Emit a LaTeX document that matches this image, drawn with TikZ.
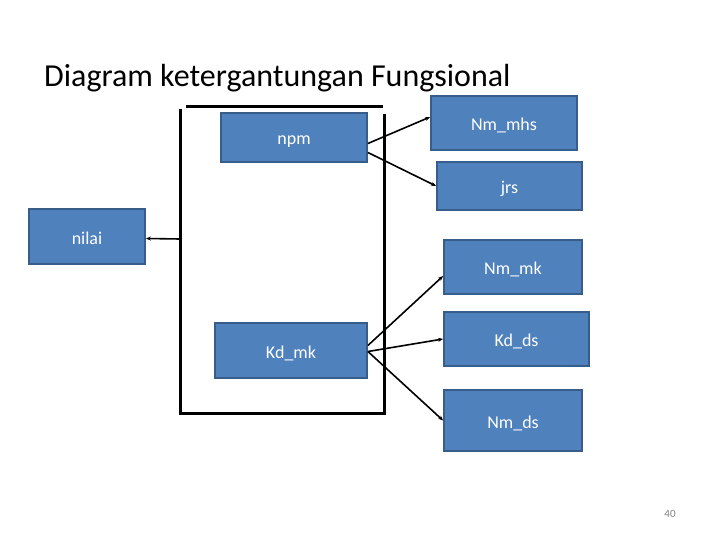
\documentclass[tikz,border=0pt]{standalone}
\usepackage{fontspec}
\setmainfont{Carlito}
\usetikzlibrary{arrows.meta}
\definecolor{boxfill}{HTML}{4F81BD}
\definecolor{boxline}{HTML}{385D8A}
\tikzset{
  ebox/.style={draw=boxline, line width=1.8pt, fill=boxfill, text=white, font=\fontsize{18}{20}\selectfont, inner sep=0pt, text height=15pt, text depth=0pt},
  link/.style={line width=1.6pt, -{Stealth[length=5pt,width=4pt]}},
  frame/.style={line width=3pt}
}
\begin{document}
\begin{tikzpicture}[x=1pt,y=-1pt]
\useasboundingbox (0,0) rectangle (720,540);
\node[anchor=west, font=\fontsize{32}{36}\selectfont, inner sep=0pt] (title) at (44,78) {Diagram ketergantungan Fungsional};
% frame
\draw[frame] (186,107) -- (383,107);
\draw[frame] (180,109) -- (180,413) -- (384,413) -- (384,114);
\coordinate (fl) at (180,239);
% boxes
\node[ebox, minimum width=146pt, minimum height=49pt] (npm) at (294,137.5) {npm};
\node[ebox, minimum width=146pt, minimum height=54pt] (nmmhs) at (504,123) {Nm\_mhs};
\node[ebox, minimum width=145pt, minimum height=48pt] (jrs) at (509.5,186) {jrs};
\node[ebox, minimum width=116pt, minimum height=55pt] (nilai) at (87,236.5) {nilai};
\node[ebox, minimum width=138pt, minimum height=54pt] (nmmk) at (513,267) {Nm\_mk};
\node[ebox, minimum width=145pt, minimum height=54pt] (kdds) at (516.5,339) {Kd\_ds};
\node[ebox, minimum width=152pt, minimum height=55pt] (kdmk) at (291,350.5) {Kd\_mk};
\node[ebox, minimum width=138pt, minimum height=61pt] (nmds) at (513,420.5) {Nm\_ds};
% connectors
\draw[link] ([yshift=-6pt]npm.east) -- ([yshift=6pt]nmmhs.west);
\draw[link] ([yshift=-15pt]npm.east) -- (jrs.west);
\draw[link] (fl) -- ([yshift=-2pt]nilai.east);
\draw[link] ([yshift=5pt]kdmk.east) -- ([yshift=-9pt]nmmk.west);
\draw[link] ([yshift=-1pt]kdmk.east) -- (kdds.west);
\draw[link] ([yshift=-1pt]kdmk.east) -- (nmds.west);
\node[text=gray, font=\fontsize{11}{13}\selectfont] (pg) at (670,514) {40};
\end{tikzpicture}
\end{document}
